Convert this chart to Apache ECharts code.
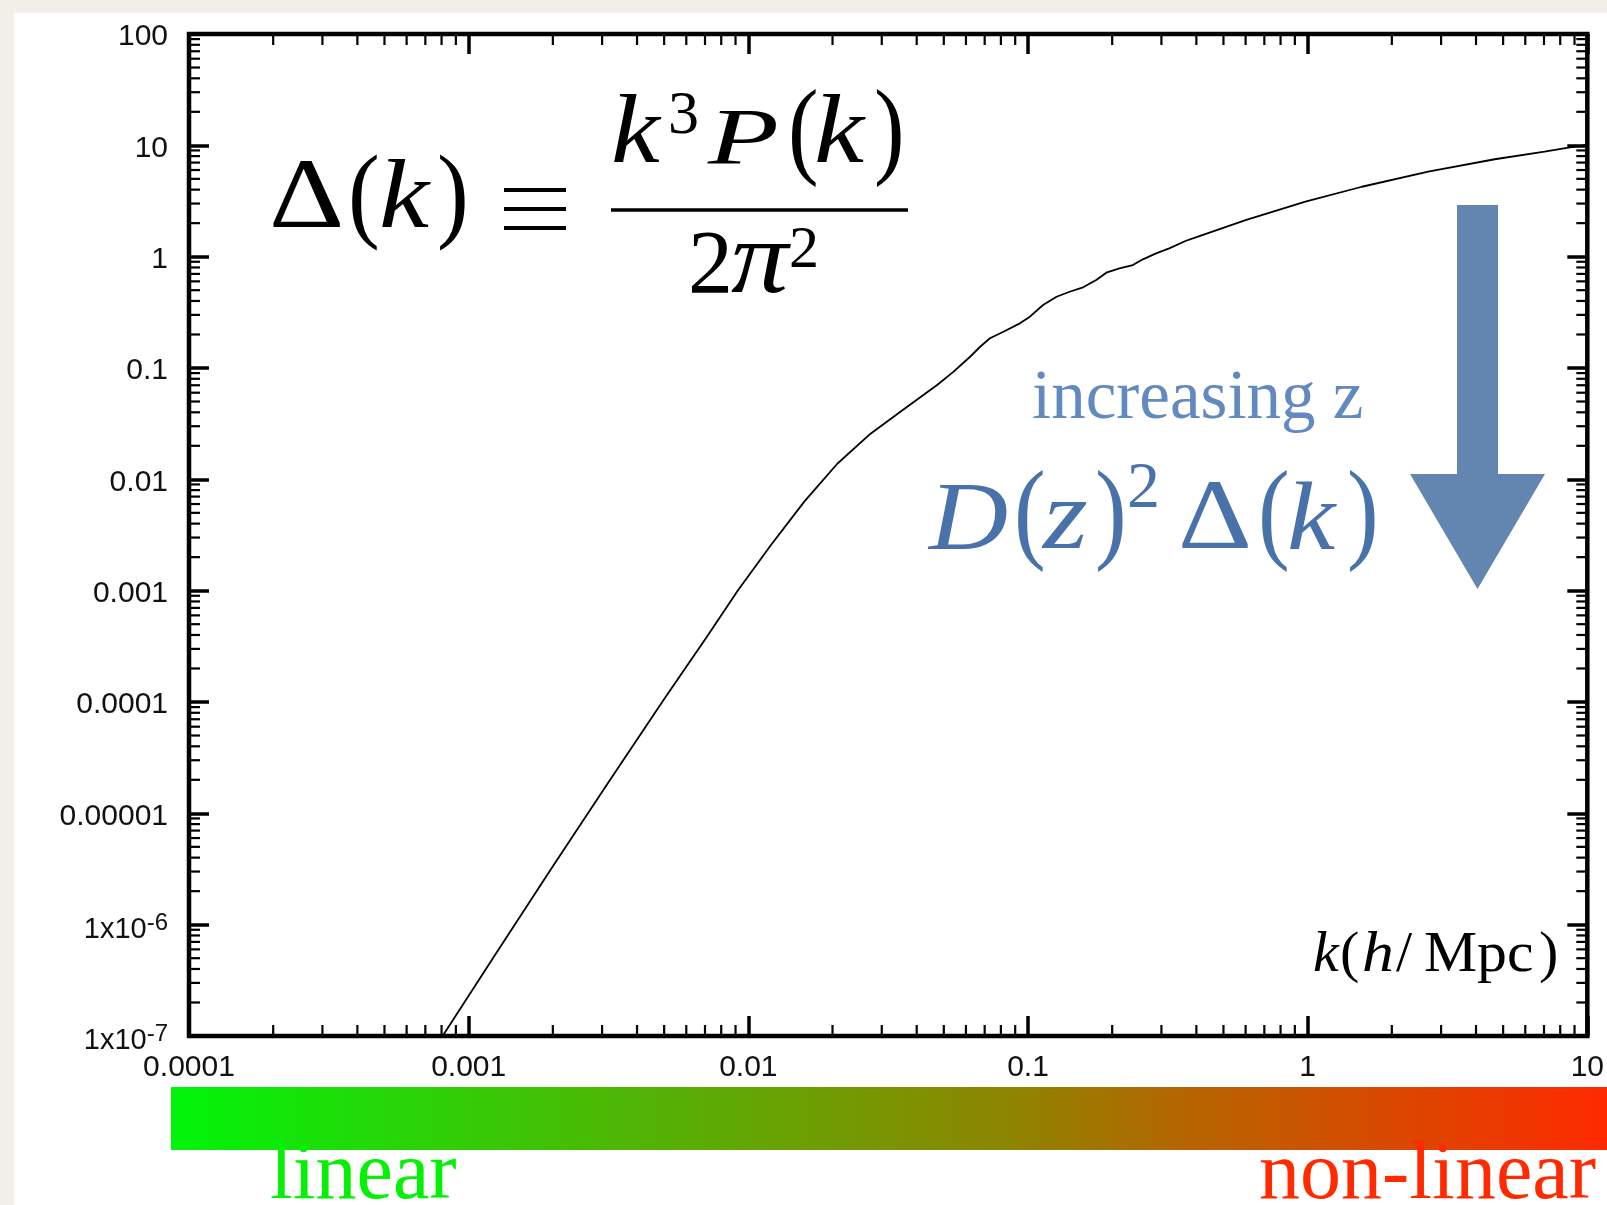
<!DOCTYPE html>
<html>
<head>
<meta charset="utf-8">
<script src="https://cdn.jsdelivr.net/npm/echarts@6/dist/echarts.min.js"></script>
<style>
html,body{margin:0;padding:0;background:#f2efe9;}
#chart{width:1607px;height:1205px;}
</style>
</head>
<body>
<div id="chart"></div>
<script>
// ---- data ----
const kValues = [0.000631, 0.000807, 0.001259, 0.001995, 0.003162, 0.00501, 0.00708, 0.00916,
  0.01205, 0.01585, 0.0208, 0.02735, 0.03597, 0.04732, 0.0542, 0.06209, 0.06745, 0.07311,
  0.08166, 0.09354, 0.1016, 0.1132, 0.1265, 0.1409, 0.1574, 0.1754, 0.1905, 0.2123, 0.2371,
  0.2576, 0.2871, 0.3199, 0.3673, 0.3981, 0.5998, 0.9817, 1.563, 2.698, 4.667, 7.031, 8.995, 10];
const deltaValues = [3.8e-8, 1.0e-7, 5.62e-7, 3.31e-6, 1.905e-5, 1.072e-4, 3.8e-4, 1.0e-3,
  2.57e-3, 6.31e-3, 0.0138, 0.0257, 0.04266, 0.07031, 0.09268, 0.1262, 0.1552, 0.1849,
  0.2118, 0.2518, 0.2891, 0.3681, 0.4365, 0.4842, 0.5309, 0.6166, 0.7178, 0.7852, 0.8414,
  0.9462, 1.0715, 1.1885, 1.39, 1.493, 2.133, 3.119, 4.246, 5.794, 7.499, 8.77, 9.727, 10.07];

const xTickValues = [0.0001, 0.001, 0.01, 0.1, 1, 10];
const xTickLabels = ['0.0001', '0.001', '0.01', '0.1', '1', '10'];
const yTickValues = [1e-7, 1e-6, 1e-5, 1e-4, 1e-3, 0.01, 0.1, 1, 10, 100];
const yTickLabels = ['{a|1x10}{s|-7}', '{a|1x10}{s|-6}', '0.00001', '0.0001', '0.001', '0.01', '0.1', '1', '10', '100'];
const minorMultipliers = [2, 3, 4, 5, 6, 7, 8, 9];
const xDecades = [0.0001, 0.001, 0.01, 0.1, 1];
const yDecades = [1e-7, 1e-6, 1e-5, 1e-4, 1e-3, 0.01, 0.1, 1, 10];

// ---- build ----
const curve = kValues.map((k, i) => [k, deltaValues[i]]);
const xMinor = [];
xDecades.forEach(d => minorMultipliers.forEach(m => xMinor.push([d * m, 1])));
const yMinor = [];
yDecades.forEach(d => minorMultipliers.forEach(m => yMinor.push([1, d * m])));

function labelFor(values, labels) {
  return function (v) {
    const lv = Math.log10(v);
    for (let i = 0; i < values.length; i++) {
      if (Math.abs(Math.log10(values[i]) - lv) < 1e-6) return labels[i];
    }
    return '';
  };
}

const SERIF = '"Liberation Serif", "Times New Roman", serif';
const SANS = '"Liberation Sans", Arial, Helvetica, sans-serif';

function T(text, x, base, size, opt) {
  opt = opt || {};
  const el = {
    type: 'text', x: x, y: base - 0.34 * size, z: 100,
    style: {
      text: text,
      font: (opt.italic ? 'italic ' : '') + size + 'px ' + SERIF,
      fill: opt.color || '#000',
      align: opt.align || 'left',
      verticalAlign: 'middle'
    }
  };
  if (opt.sx) el.scaleX = opt.sx;
  return el;
}
function L(x1, y1, x2, y2, w, c) {
  return { type: 'line', z: 100, shape: { x1: x1, y1: y1, x2: x2, y2: y2 }, style: { stroke: c || '#000', lineWidth: w } };
}

const BLUE = '#4a72aa';
const graphics = [
  { type: 'rect', z: -5, shape: { x: 14, y: 13, width: 1593, height: 1192 }, style: { fill: '#ffffff' } },
  { type: 'rect', z: 50, shape: { x: 171, y: 1087, width: 1436, height: 63 },
    style: { fill: { type: 'linear', x: 0, y: 0, x2: 1, y2: 0, colorStops: [
      { offset: 0, color: '#00f50a' }, { offset: 0.3, color: '#4bb905' },
      { offset: 0.577, color: '#8c8600' }, { offset: 0.717, color: '#b86300' },
      { offset: 1, color: '#ff2a00' }] } } },
  // arrow
  { type: 'polygon', z: 50, shape: { points: [[1457, 205], [1498, 205], [1498, 474], [1545, 474], [1477.5, 589], [1410, 474], [1457, 474]] },
    style: { fill: '#6386b0' } },
  // formula  Δ(k) ≡ k^3 P(k) / 2π^2
  T('Δ', 269, 235, 100, { sx: 1.17 }),
  T('(', 348, 236, 106, { sx: 0.9 }),
  T('k', 379, 235, 98, { italic: true, sx: 1.15 }),
  T(')', 437, 236, 106, { sx: 0.9 }),
  L(504, 190, 566, 190, 3.8), L(504, 209, 566, 209, 3.8), L(504, 228, 566, 228, 3.8),
  L(611, 210, 908, 210, 3.5),
  T('k', 611, 170, 98, { italic: true, sx: 1.12 }),
  T('3', 668, 138, 62),
  T('P', 708, 170, 80, { italic: true, sx: 1.45 }),
  T('(', 788, 172, 108, { sx: 0.85 }),
  T('k', 814, 170, 98, { italic: true, sx: 1.15 }),
  T(')', 874, 172, 108, { sx: 0.85 }),
  T('2', 688, 300, 90),
  T('π', 731, 300, 104, { italic: true, sx: 1.1 }),
  T('2', 789, 272, 60),
  // increasing z
  T('increasing z', 1032, 423, 69, { color: '#6389c1' }),
  // D(z)^2 Δ(k)
  T('D', 929, 556, 97, { italic: true, color: BLUE, sx: 1.13 }),
  T('(', 1014, 557, 112, { color: BLUE, sx: 0.85 }),
  T('z', 1043, 556, 100, { italic: true, color: BLUE, sx: 1.15 }),
  T(')', 1095, 557, 112, { color: BLUE, sx: 0.85 }),
  T('2', 1127, 512, 66, { color: BLUE }),
  T('Δ', 1178, 556, 100, { color: BLUE, sx: 1.15 }),
  T('(', 1258, 557, 112, { color: BLUE, sx: 0.85 }),
  T('k', 1287, 556, 97, { italic: true, color: BLUE, sx: 1.12 }),
  T(')', 1347, 557, 112, { color: BLUE, sx: 0.85 }),
  // axis title k(h/Mpc)
  T('k', 1313, 975, 58, { italic: true }),
  T('(', 1340, 975, 58),
  T('h', 1362, 975, 58, { italic: true, sx: 1.1 }),
  T('/', 1396, 975, 58),
  T('Mpc', 1424, 975, 58, { sx: 1.03 }),
  T(')', 1539, 975, 58),
  // bar captions
  T('linear', 270, 1204, 82, { color: '#05f005' }),
  T('non-linear', 1596, 1204, 82, { color: '#ff2a00', align: 'right' })
];

const tickStyle = { color: '#000', width: 3.5 };
function xAxisOpt(pos, showLabel) {
  return {
    type: 'log', logBase: 10, min: 0.0001, max: 10, position: pos,
    axisLine: { show: false },
    axisTick: { show: true, inside: true, length: 20, lineStyle: tickStyle },
    minorTick: { show: false },
    splitLine: { show: false },
    axisLabel: { show: showLabel, margin: 17, fontSize: 30, fontFamily: SANS, color: '#111',
      formatter: labelFor(xTickValues, xTickLabels) }
  };
}
function yAxisOpt(pos, showLabel) {
  return {
    type: 'log', logBase: 10, min: 1e-7, max: 100, position: pos,
    axisLine: { show: false },
    axisTick: { show: true, inside: true, length: 20, lineStyle: tickStyle },
    minorTick: { show: false },
    splitLine: { show: false },
    axisLabel: { show: showLabel, margin: 21, fontSize: 30, fontFamily: SANS, color: '#111',
      padding: [6, 0, 0, 0],
      formatter: labelFor(yTickValues, yTickLabels),
      rich: {
        a: { fontSize: 29, fontFamily: SANS, color: '#111', verticalAlign: 'bottom' },
        s: { fontSize: 24, fontFamily: SANS, color: '#111', verticalAlign: 'bottom', padding: [0, 0, 9, 0] }
      } }
  };
}

const chart = echarts.init(document.getElementById('chart'), null, { renderer: 'canvas' });
chart.setOption({
  animation: false,
  backgroundColor: '#f2efe9',
  grid: { left: 189, top: 34, width: 1404, height: 1002, show: true, borderColor: '#000', borderWidth: 4.5, backgroundColor: 'transparent', z: 3 },
  xAxis: [xAxisOpt('bottom', true), xAxisOpt('top', false)],
  yAxis: [yAxisOpt('left', true), yAxisOpt('right', false)],
  graphic: { elements: graphics },
  series: [
    { type: 'line', xAxisIndex: 0, yAxisIndex: 0, data: curve, showSymbol: false, symbol: 'none',
      smooth: false, clip: true, silent: true,
      lineStyle: { color: '#000', width: 1.8 }, z: 4 },
    { type: 'custom', xAxisIndex: 0, yAxisIndex: 0, data: xMinor, silent: true, z: 4,
      renderItem: function (params, api) {
        const p = api.coord([api.value(0), api.value(1)]);
        const cs = params.coordSys;
        return { type: 'group', children: [
          { type: 'line', shape: { x1: p[0], y1: cs.y + cs.height, x2: p[0], y2: cs.y + cs.height - 11 }, style: { stroke: '#000', lineWidth: 2.2 } },
          { type: 'line', shape: { x1: p[0], y1: cs.y, x2: p[0], y2: cs.y + 11 }, style: { stroke: '#000', lineWidth: 2.2 } }
        ] };
      } },
    { type: 'custom', xAxisIndex: 0, yAxisIndex: 0, data: yMinor, silent: true, z: 4,
      renderItem: function (params, api) {
        const p = api.coord([api.value(0), api.value(1)]);
        const cs = params.coordSys;
        return { type: 'group', children: [
          { type: 'line', shape: { x1: cs.x, y1: p[1], x2: cs.x + 11, y2: p[1] }, style: { stroke: '#000', lineWidth: 2.2 } },
          { type: 'line', shape: { x1: cs.x + cs.width, y1: p[1], x2: cs.x + cs.width - 11, y2: p[1] }, style: { stroke: '#000', lineWidth: 2.2 } }
        ] };
      } }
  ]
});
</script>
</body>
</html>
